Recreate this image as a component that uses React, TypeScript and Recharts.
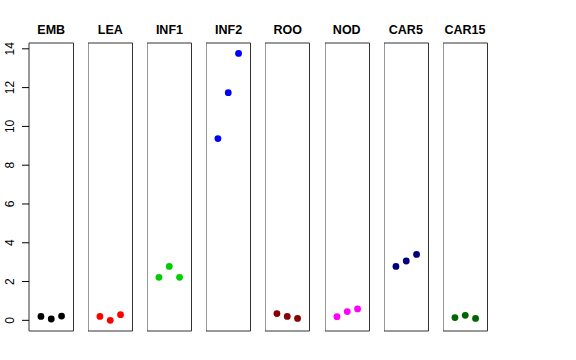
import React from 'react';
import { ScatterChart, Scatter, XAxis, YAxis, ReferenceArea } from 'recharts';

const panels = ['EMB', 'LEA', 'INF1', 'INF2', 'ROO', 'NOD', 'CAR5', 'CAR15'];
const colors = ['#000000', '#FF0000', '#00CD00', '#0000FF', '#8B0000', '#FF00FF', '#000080', '#006400'];

const emb = [0.2, 0.07, 0.22];
const lea = [0.2, 0.0, 0.29];
const inf1 = [2.22, 2.78, 2.22];
const inf2 = [9.37, 11.74, 13.76];
const roo = [0.35, 0.2, 0.1];
const nod = [0.19, 0.45, 0.59];
const car5 = [2.78, 3.06, 3.4];
const car15 = [0.14, 0.26, 0.1];
const series = [emb, lea, inf1, inf2, roo, nod, car5, car15];

const yTicks = [0, 2, 4, 6, 8, 10, 12, 14];
const yDomain: [number, number] = [-0.55, 14.3];
const xDomain: [number, number] = [-0.16, 4.16];

const AXIS_W = 29;
const PANEL_W = 44.5;
const PITCH = 59.1;

const RotTick = (props: any) => {
  const { x, y, payload } = props;
  const bx = x - 5.5;
  return (
    <text
      x={bx}
      y={y}
      transform={`rotate(-90, ${bx}, ${y})`}
      textAnchor="middle"
      fontSize={12}
      fontFamily="'Liberation Sans', Arial, sans-serif"
      fill="#000"
    >
      {payload.value}
    </text>
  );
};

const Dot = (props: any) => {
  const { cx, cy, fill } = props;
  return <circle cx={cx} cy={cy} r={3.4} fill={fill} />;
};

const App = () => {
  return (
    <div style={{ position: 'absolute', left: 0, top: 0, width: 576, height: 360, background: '#fff' }}>
      {panels.map((name, i) => {
        const plotLeft = AXIS_W + i * PITCH;
        const first = i === 0;
        const data = series[i].map((v, j) => ({ x: j + 1, y: v }));
        return (
          <React.Fragment key={name}>
            <div
              style={{
                position: 'absolute',
                left: plotLeft - 10,
                width: PANEL_W + 20,
                top: 23,
                textAlign: 'center',
                fontFamily: "'Liberation Sans', Arial, sans-serif",
                fontWeight: 'bold',
                fontSize: 12.5,
                lineHeight: '14px',
              }}
            >
              {name}
            </div>
            <div style={{ position: 'absolute', left: first ? plotLeft - AXIS_W : plotLeft, top: 0 }}>
              <ScatterChart
                width={PANEL_W + (first ? AXIS_W : 0) + 2}
                height={360}
                margin={{ top: 43, bottom: 29, left: 0, right: 2 }}
                style={{ overflow: 'visible' }}
              >
                <XAxis type="number" dataKey="x" domain={xDomain} hide />
                <YAxis
                  type="number"
                  dataKey="y"
                  domain={yDomain}
                  ticks={yTicks}
                  hide={!first}
                  width={AXIS_W}
                  tickSize={7}
                  tick={<RotTick />}
                  axisLine={false}
                  tickLine={{ stroke: '#000' }}
                  allowDataOverflow
                />
                <ReferenceArea
                  x1={xDomain[0]}
                  x2={xDomain[1]}
                  y1={yDomain[0]}
                  y2={yDomain[1]}
                  fill="none"
                  stroke="#333"
                  strokeWidth={1}
                  fillOpacity={0}
                  ifOverflow="visible"
                />
                <Scatter data={data} fill={colors[i]} shape={<Dot />} isAnimationActive={false} />
              </ScatterChart>
            </div>
          </React.Fragment>
        );
      })}
    </div>
  );
};

export default App;
